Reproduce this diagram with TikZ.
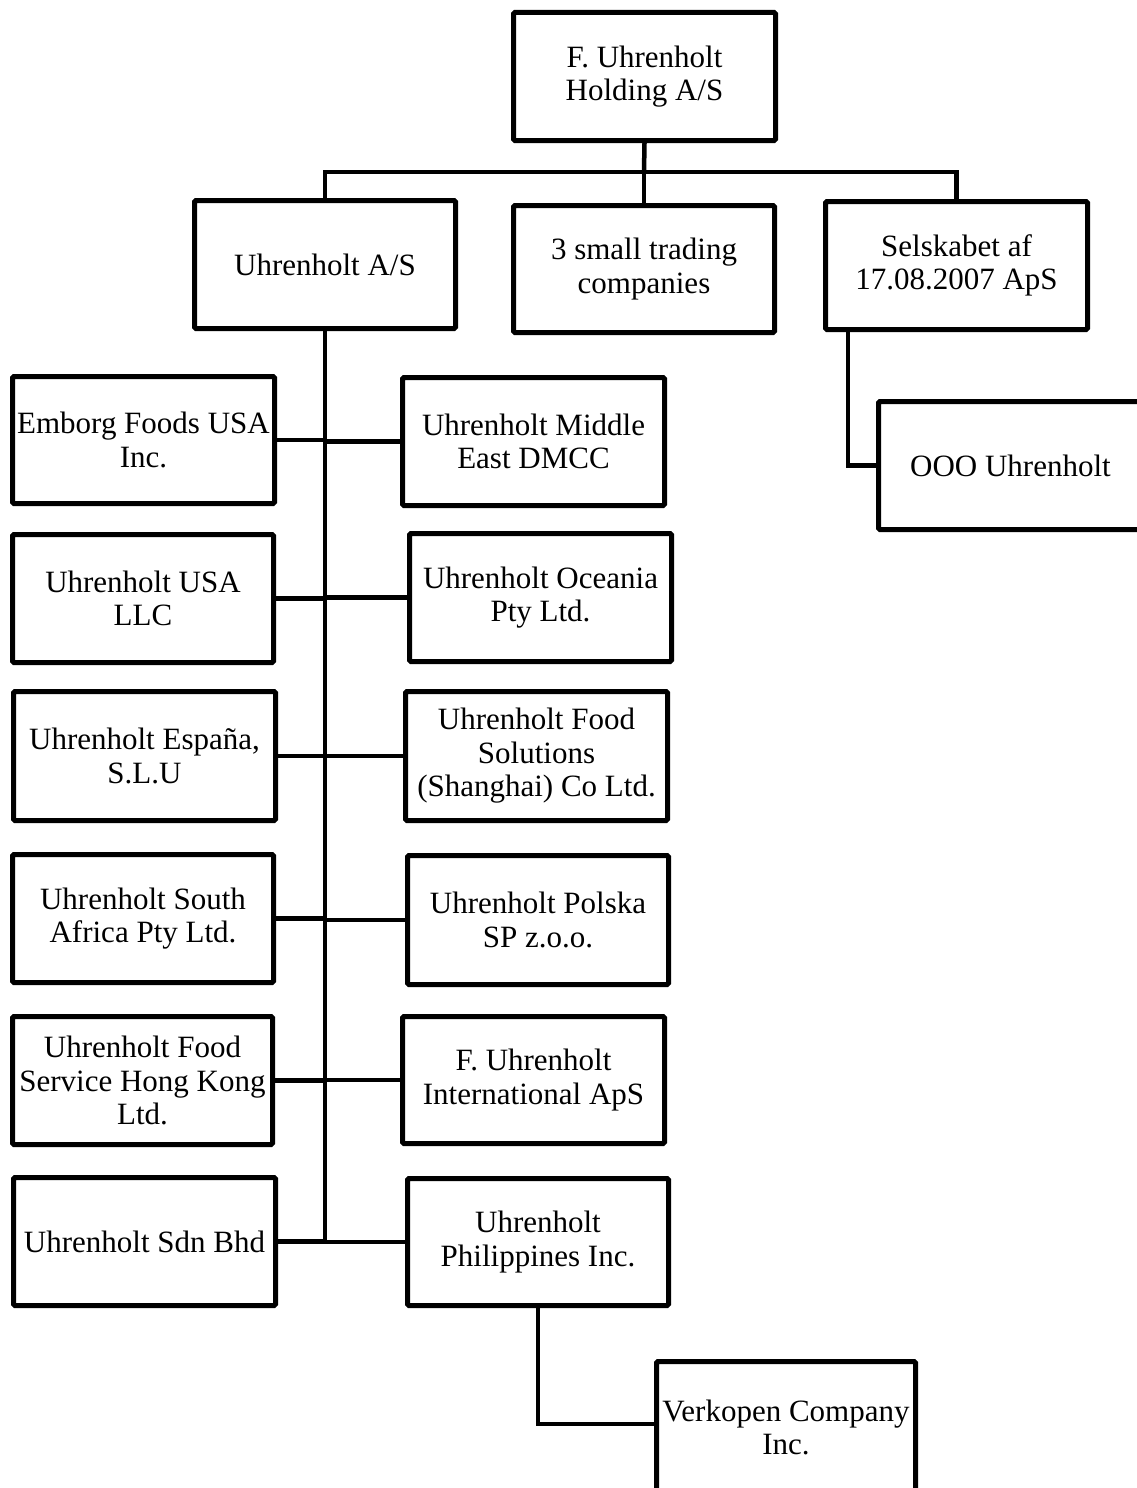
\documentclass[tikz,border=0pt]{standalone}
\usepackage{fontspec}
\setmainfont{Liberation Serif}
\begin{document}
\begin{tikzpicture}[x=1pt,y=-1pt,
  box/.style={draw=black, line width=5pt, rounded corners=1.5pt, fill=white, align=center, inner sep=0pt,
    font=\fontsize{31}{33.5}\selectfont},
  conn/.style={draw=black, line width=4.5pt}]
\path[use as bounding box] (0,0) rectangle (1137,1488);
\clip (0,0) rectangle (1137,1488);
\newcommand\bx[6]{\node[box, minimum width={(#4-#2-5)*1pt}, minimum height={(#5-#3-5)*1pt}] (#1) at ({(#2+#4)/2},{(#3+#5)/2}) {#6};}
\bx{top}{511}{10}{778}{143}{F. Uhrenholt\\Holding A/S}
\bx{uas}{192}{198}{458}{331}{Uhrenholt A/S}
\bx{small}{511}{203}{777}{335}{3 small trading\\companies}
\bx{sel}{823}{199}{1090}{332}{Selskabet af\\17.08.2007 ApS}
\bx{ooo}{876}{399}{1145}{532}{OOO Uhrenholt}
\bx{emb}{10}{374}{277}{506}{Emborg Foods USA\\Inc.}
\bx{usa}{10}{532}{276}{665}{Uhrenholt USA\\LLC}
\bx{esp}{11}{689}{278}{823}{Uhrenholt España,\\S.L.U}
\bx{saf}{10}{852}{276}{985}{Uhrenholt South\\Africa Pty Ltd.}
\bx{hk}{10}{1014}{275}{1147}{Uhrenholt Food\\Service Hong Kong\\Ltd.}
\bx{sdn}{11}{1175}{278}{1308}{Uhrenholt Sdn Bhd}
\bx{mid}{400}{375}{667}{508}{Uhrenholt Middle\\East DMCC}
\bx{oce}{407}{531}{674}{664}{Uhrenholt Oceania\\Pty Ltd.}
\bx{sha}{403}{689}{670}{823}{Uhrenholt Food\\Solutions\\(Shanghai) Co Ltd.}
\bx{pol}{405}{853}{671}{987}{Uhrenholt Polska\\SP z.o.o.}
\bx{int}{400}{1014}{667}{1146}{F. Uhrenholt\\International ApS}
\bx{phi}{405}{1176}{671}{1308}{Uhrenholt\\Philippines Inc.}
\bx{ver}{654}{1359}{918}{1496}{Verkopen Company\\Inc.}
% top connectors
\coordinate (j0) at (644,172);
\draw[conn] (top.south) -- (j0);
\draw[conn] (uas.north) |- (j0) -| (sel.north);
\draw[conn] (j0) -- (small.north);
% trunk
\coordinate (tb) at (uas.south |- sdn.east);
\draw[conn] (uas.south) -- (tb);
\foreach \l/\r in {emb/mid, usa/oce, esp/sha, saf/pol, hk/int, sdn/phi}{
  \draw[conn] (\l.east) -- (\l.east -| uas.south);
  \draw[conn] (\r.west) -- (\r.west -| uas.south);
}
% Selskabet to OOO
\coordinate (s1) at ([xshift=25pt]sel.south west);
\draw[conn] (s1) |- (ooo.west);
% Philippines to Verkopen
\coordinate (v1) at (phi.south |- 0,1424);
\draw[conn] (phi.south) -- (v1) -- (v1 -| ver.west);
\end{tikzpicture}
\end{document}
